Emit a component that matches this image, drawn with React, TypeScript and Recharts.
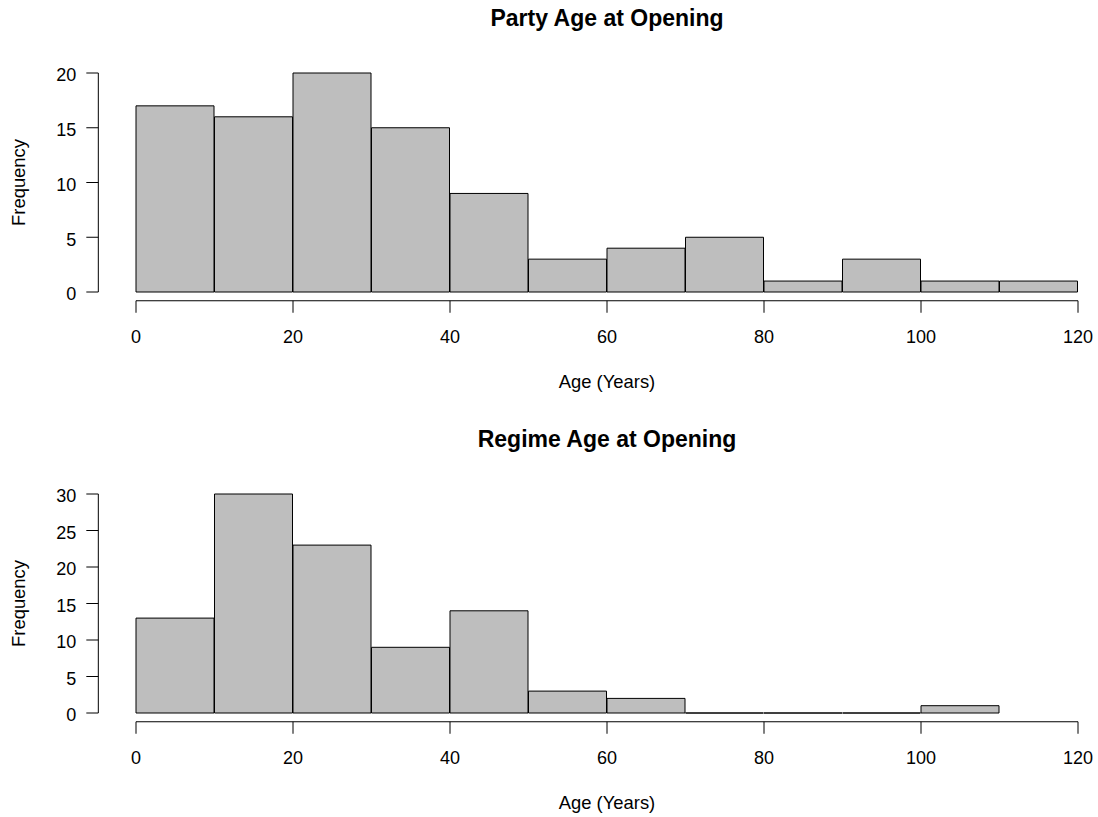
import React from 'react';
import { BarChart, Bar, XAxis, YAxis, ReferenceLine } from 'recharts';

const partyBinMids = [5, 15, 25, 35, 45, 55, 65, 75, 85, 95, 105, 115];
const partyFreq = [17, 16, 20, 15, 9, 3, 4, 5, 1, 3, 1, 1];
const regimeBinMids = [5, 15, 25, 35, 45, 55, 65, 75, 85, 95, 105];
const regimeFreq = [13, 30, 23, 9, 14, 3, 2, 0, 0, 0, 1];
const xTicks = [0, 20, 40, 60, 80, 100, 120];
const partyYTicks = [0, 5, 10, 15, 20];
const regimeYTicks = [0, 5, 10, 15, 20, 25, 30];
const titles = ['Party Age at Opening', 'Regime Age at Opening'];
const xLabel = 'Age (Years)';
const yLabel = 'Frequency';

const FONT = '"Liberation Sans", Arial, Helvetica, sans-serif';
const CHART_W = 1120;
const CHART_H = 421;

const HistRect = (props: any) => {
  const { x, y, width } = props;
  const h = Math.max(0, props.height || 0);
  const d = `M${x},${y}h${width}v${h}h${-width}Z`;
  return <path d={d} fill="#BEBEBE" stroke="#000" strokeWidth={1} />;
};

function Hist({ mids, freq, yTicks }: { mids: number[]; freq: number[]; yTicks: number[] }) {
  const data = mids.map((m, i) => ({ mid: m, count: freq[i] }));
  const yMax = yTicks[yTicks.length - 1];
  const yPad = yMax * 0.04;
  const xPad = 120 * 0.04;
  return (
    <BarChart
      width={CHART_W}
      height={CHART_H}
      data={data}
      barCategoryGap={0}
      barGap={0}
      margin={{ top: 64.24, left: 38.32, right: 4.32, bottom: 60.24 }}
      style={{ fontFamily: FONT }}
    >
      <XAxis
        dataKey="mid"
        type="number"
        domain={[-xPad, 120 + xPad]}
        ticks={xTicks}
        allowDataOverflow
        axisLine={false}
        tickLine={{ stroke: '#000', strokeWidth: 1 }}
        tickSize={12}
        tickMargin={17.7}
        height={60}
        interval={0}
        tick={{ fill: '#000', fontSize: 18, fontFamily: FONT }}
      />
      <YAxis
        type="number"
        domain={[-yPad, yMax + yPad]}
        ticks={yTicks}
        allowDataOverflow
        axisLine={false}
        tickLine={{ stroke: '#000', strokeWidth: 1 }}
        tickSize={12}
        tickMargin={10}
        width={60}
        interval={0}
        tick={{ fill: '#000', fontSize: 18, fontFamily: FONT, dy: 2 }}
      />
      <ReferenceLine
        segment={[{ x: 0, y: -yPad }, { x: 120, y: -yPad }]}
        stroke="#000"
        strokeWidth={1}
        ifOverflow="visible"
      />
      <ReferenceLine
        segment={[{ x: -xPad, y: 0 }, { x: -xPad, y: yMax }]}
        stroke="#000"
        strokeWidth={1}
        ifOverflow="visible"
      />
      <Bar dataKey="count" isAnimationActive={false} shape={HistRect} />
    </BarChart>
  );
}

export default function App() {
  return (
    <div
      style={{
        position: 'absolute',
        left: 0,
        top: 0,
        width: 1098,
        height: 817,
        overflow: 'hidden',
        background: '#fff',
        fontFamily: FONT,
      }}
    >
      <Hist mids={partyBinMids} freq={partyFreq} yTicks={partyYTicks} />
      <Hist mids={regimeBinMids} freq={regimeFreq} yTicks={regimeYTicks} />
      <svg
        width={1098}
        height={842}
        style={{ position: 'absolute', left: 0, top: 0, pointerEvents: 'none' }}
      >
        {[0, 1].map((k) => {
          const off = k * CHART_H;
          return (
            <g key={k} fontFamily={FONT} fill="#000">
              <text x={607} y={26 + off} textAnchor="middle" fontSize={23} fontWeight="bold">
                {titles[k]}
              </text>
              <text x={607} y={388.3 + off} textAnchor="middle" fontSize={18.4}>
                {xLabel}
              </text>
              <text
                x={0}
                y={0}
                textAnchor="middle"
                fontSize={18.4}
                transform={`translate(24.5, ${182.5 + off}) rotate(-90)`}
              >
                {yLabel}
              </text>
            </g>
          );
        })}
      </svg>
    </div>
  );
}
